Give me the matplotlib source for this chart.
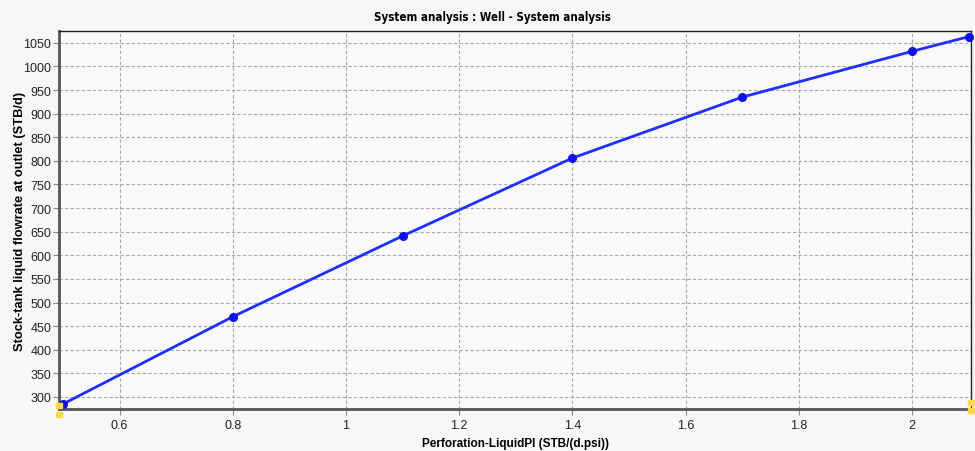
import matplotlib
matplotlib.use("Agg")
import matplotlib.pyplot as plt
from matplotlib.patches import Rectangle

liquid_pi = [0.5, 0.8, 1.1, 1.4, 1.7, 2.0, 2.1]
flowrate = [285, 470, 641, 806, 935, 1032, 1063]
x_ticks = [0.6, 0.8, 1.0, 1.2, 1.4, 1.6, 1.8, 2.0]
x_tick_labels = ["0.6", "0.8", "1", "1.2", "1.4", "1.6", "1.8", "2"]
y_ticks = list(range(300, 1051, 50))

title = "System analysis : Well - System analysis"
xlabel = "Perforation-LiquidPI (STB/(d.psi))"
ylabel = "Stock-tank liquid flowrate at outlet (STB/d)"

plt.rcParams['font.family'] = ['Liberation Sans', 'DejaVu Sans']

fig = plt.figure(figsize=(9.75, 4.52), dpi=100)
fig.patch.set_facecolor('#f7f7f7')
W, H = 975, 452
l, r, t, b = 59, 971, 32, 410
ax = fig.add_axes([l / W, 1 - b / H, (r - l) / W, (b - t) / H])
ax.set_facecolor('#f9f9f9')

ax.plot(liquid_pi, flowrate, color='#1f2fff', lw=2, marker='o', ms=5.5,
        markerfacecolor='#1010ee', markeredgecolor='#1010ee', clip_on=False, zorder=5)

ax.set_xlim(0.493, 2.104)
ax.set_ylim(274.5, 1075)
ax.set_xticks(x_ticks)
ax.set_xticklabels(x_tick_labels)
ax.set_yticks(y_ticks)
ax.grid(True, color='#a8a8a8', linestyle=(0, (3, 2)), lw=0.8)
ax.tick_params(axis='both', labelsize=9, colors='#888888', labelcolor='#222222',
               length=4, width=0.8, direction='out')
ax.tick_params(axis='y', pad=1.5)

for s in ['left', 'bottom']:
    ax.spines[s].set_color('#555555')
    ax.spines[s].set_linewidth(2)
for s in ['top', 'right']:
    ax.spines[s].set_color('#222222')
    ax.spines[s].set_linewidth(1)

fig.text(492 / W, 1 - 17 / H, title, fontsize=8.3, fontweight='bold',
         family='DejaVu Sans', fontstretch='condensed', ha='center', va='center')
ax.set_xlabel(xlabel, fontsize=8.5, fontweight='bold', labelpad=4)
ax.set_ylabel(ylabel, fontsize=9.3, fontweight='bold')
ax.yaxis.set_label_coords((26 - l) / (r - l), 0.5)

# selection handles (UI decoration)
for (px, py) in [(56, 404), (56, 413), (968, 401), (968, 409)]:
    fig.patches.append(Rectangle((px / W, 1 - (py + 5) / H), 6 / W, 5 / H,
                                 transform=fig.transFigure, color='#ffd84a', zorder=10))

fig.savefig("out.png", dpi=100, facecolor=fig.get_facecolor())
